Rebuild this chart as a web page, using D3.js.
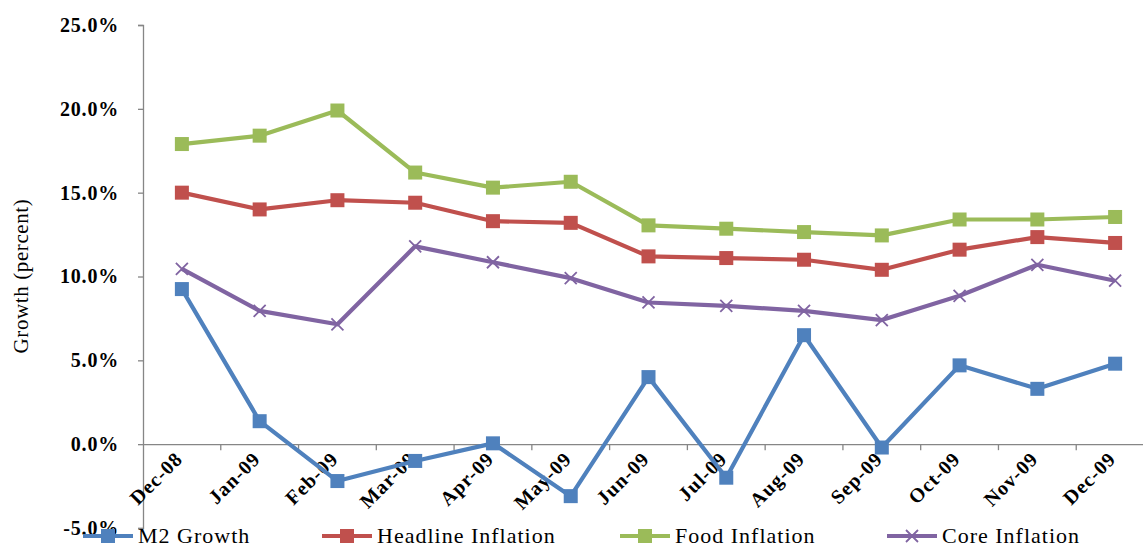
<!DOCTYPE html>
<html>
<head>
<meta charset="utf-8">
<script src="https://cdn.jsdelivr.net/npm/d3@7"></script>
<style>
  html, body { margin: 0; padding: 0; background: #fff; }
  svg { display: block; }
  svg text { font-family: "Liberation Serif", "DejaVu Serif", serif; }
</style>
</head>
<body>
<svg id="chart" width="1143" height="548"></svg>
<script>
// Monthly categories
const months = ["Dec-08","Jan-09","Feb-09","Mar-09","Apr-09","May-09","Jun-09",
                "Jul-09","Aug-09","Sep-09","Oct-09","Nov-09","Dec-09"];

// Series values (percent)
const m2Growth  = [9.25, 1.37, -2.2, -1.0, 0.05, -3.1, 4.0, -2.0, 6.5, -0.2, 4.7, 3.3, 4.8];
const headline  = [15.0, 14.0, 14.55, 14.4, 13.3, 13.2, 11.2, 11.1, 11.0, 10.4, 11.6, 12.35, 12.0];
const food      = [17.9, 18.4, 19.9, 16.2, 15.3, 15.65, 13.05, 12.85, 12.65, 12.45, 13.4, 13.4, 13.55];
const core      = [10.45, 7.95, 7.15, 11.8, 10.85, 9.9, 8.45, 8.25, 7.95, 7.4, 8.85, 10.7, 9.75];

// Y axis ticks
const yTicks = [-5, 0, 5, 10, 15, 20, 25];

const seriesNames = ["M2 Growth", "Headline Inflation", "Food Inflation", "Core Inflation"];
const seriesColors = ["#4F81BD", "#C0504D", "#9BBB59", "#8064A2"];
const seriesMarkers = ["square", "square", "square", "cross"];

const series = [m2Growth, headline, food, core].map((vals, i) => ({
  name: seriesNames[i], color: seriesColors[i], marker: seriesMarkers[i], values: vals
}));

const FONT = "Liberation Serif, DejaVu Serif, serif";
const svg = d3.select("#chart");

const x = d3.scaleBand().domain(months).range([143, 1154]);
const y = d3.scaleLinear().domain([-5, 25]).range([528, 25]);

const axisColor = "#868686";

// Y axis
const yAxis = svg.append("g").attr("transform", "translate(143,0)")
  .call(d3.axisLeft(y).tickValues(yTicks).tickSize(5).tickPadding(6)
    .tickFormat(d => d.toFixed(1) + "%"));
yAxis.attr("font-family", FONT);
yAxis.select(".domain").attr("stroke", axisColor).attr("stroke-width", 1.3);
yAxis.selectAll(".tick line").attr("stroke", axisColor).attr("stroke-width", 1.3);
yAxis.selectAll(".tick text")
  .attr("font-family", FONT)
  .attr("font-size", 20).attr("font-weight", "bold").attr("fill", "#000")
  .attr("letter-spacing", 0.8)
  .attr("dx", -13);

// X axis along zero line
const xAxis = svg.append("g").attr("transform", `translate(0,${y(0)})`)
  .call(d3.axisBottom(x).tickSize(0).tickFormat(""));
xAxis.select(".domain").attr("stroke", axisColor).attr("stroke-width", 1.3);
xAxis.selectAll(".tick").remove();

// Tick marks at band boundaries
const boundaries = months.map(m => x(m)).concat([x(months[months.length - 1]) + x.bandwidth()]);
svg.append("g").selectAll("line").data(boundaries.slice(1)).join("line")
  .attr("x1", d => d).attr("x2", d => d)
  .attr("y1", y(0)).attr("y2", y(0) + 6)
  .attr("stroke", axisColor).attr("stroke-width", 1.3);

// Category labels, rotated
svg.append("g").selectAll("text").data(months).join("text")
  .attr("transform", d => `translate(${x(d) + x.bandwidth() / 2 + 2},${y(0) + 16}) rotate(-45)`)
  .attr("text-anchor", "end")
  .attr("font-family", FONT)
  .attr("font-size", 20).attr("font-weight", "bold").attr("fill", "#000")
  .attr("letter-spacing", 1)
  .text(d => d);

// Y axis title
svg.append("text")
  .attr("transform", "translate(28,276) rotate(-90)")
  .attr("text-anchor", "middle")
  .attr("font-family", FONT)
  .attr("font-size", 21).attr("fill", "#000")
  .attr("letter-spacing", 0.6)
  .text("Growth (percent)");

const cx = (d, i) => x(months[i]) + x.bandwidth() / 2;
const line = d3.line().x((d, i) => cx(d, i)).y(d => y(d));

function drawMarker(g, type, color, px, py) {
  if (type === "square") {
    g.append("rect").attr("x", px - 7).attr("y", py - 7)
      .attr("width", 14).attr("height", 14).attr("fill", color);
  } else {
    g.append("path")
      .attr("d", `M${px - 6},${py - 6}L${px + 6},${py + 6}M${px - 6},${py + 6}L${px + 6},${py - 6}`)
      .attr("stroke", color).attr("stroke-width", 1.8).attr("fill", "none");
  }
}

// Lines and markers
series.forEach(s => {
  const g = svg.append("g");
  g.append("path").datum(s.values)
    .attr("d", line).attr("fill", "none")
    .attr("stroke", s.color).attr("stroke-width", 4.2)
    .attr("stroke-linejoin", "round");
  s.values.forEach((v, i) => drawMarker(g, s.marker, s.color, cx(v, i), y(v)));
});

// Legend
const legendX = [83, 322, 620, 887];
const legendY = 536;
series.forEach((s, i) => {
  const g = svg.append("g");
  g.append("line").attr("x1", legendX[i]).attr("x2", legendX[i] + 50)
    .attr("y1", legendY).attr("y2", legendY)
    .attr("stroke", s.color).attr("stroke-width", 4.2);
  drawMarker(g, s.marker, s.color, legendX[i] + 25, legendY);
  g.append("text").attr("x", legendX[i] + 55).attr("y", legendY + 7)
    .attr("font-family", FONT)
    .attr("font-size", 22).attr("fill", "#000")
    .attr("letter-spacing", 1)
    .text(s.name);
});
</script>
</body>
</html>
